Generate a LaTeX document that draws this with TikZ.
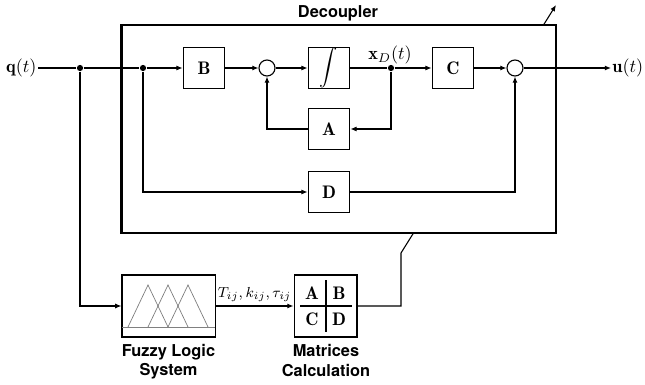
\documentclass[tikz,border=0pt]{standalone}
\usepackage{fontspec}
\setsansfont{TeX Gyre Heros}
\usetikzlibrary{arrows.meta}

\begin{document}
\begin{tikzpicture}[x=0.55pt, y=-0.55pt, line width=0.6pt,
    >={Latex[length=3.4pt,width=2.8pt]},
    block/.style={draw, minimum size=23pt, inner sep=0pt},
    sumnode/.style={draw, circle, minimum size=8.8pt, inner sep=0pt},
    junction/.style={circle, fill, minimum size=3.4pt, inner sep=0pt},
    caption/.style={font=\fontsize{9}{10.5}\selectfont\sffamily\bfseries, align=center, inner sep=0pt}]

    % Fix picture size
    \useasboundingbox (0,0) rectangle (645,385);

    % Draw the lower blocks
    \node[draw, minimum width=51.2pt, minimum height=34.1pt, inner sep=0pt] (fuzzy) at (168.5,306) {};
    \node[draw, minimum width=34.6pt, minimum height=34.1pt, inner sep=0pt] (matrices) at (325.5,306) {};

    % Membership functions inside the fuzzy block
    \draw[gray, line width=0.4pt] (122,327) -- (215,327);
    \foreach \p in {148,168,188}
        \draw[gray, line width=0.4pt] (\p-20,327) -- (\p,285) -- (\p+20,327);

    % Matrix partition
    \draw (326,280) -- (326,332);
    \draw (300,306) -- (352,306);
    \node (mA) at (312,293) {$\mathbf{A}$};
    \node (mB) at (339,293) {$\mathbf{B}$};
    \node (mC) at (312,319) {$\mathbf{C}$};
    \node (mD) at (339,319) {$\mathbf{D}$};

    % Captions
    \node[caption] (fuzzylabel) at (168.5,362) {Fuzzy Logic\\System};
    \node[caption] (matlabel) at (326,360.5) {Matrices\\Calculation};

    % Adjustment arrow through the decoupler
    \coordinate (knee) at (401,253);
    \coordinate (tip) at (556,5);
    \draw[->] (matrices.east) -| (knee) -- (tip);

    % Decoupler frame
    \node[draw, fill=white, line width=1.6pt, minimum width=239.2pt, minimum height=114.4pt, inner sep=0pt] (decoupler) at (338.5,129) {};
    \node[caption, anchor=base] (declabel) at (338,18) {Decoupler};

    % Signal path nodes
    \node[anchor=east, inner sep=0.5pt] (qin) at (38,68) {$\mathbf{q}(t)$};
    \node[junction] (dot1) at (80,68) {};
    \node[junction] (dot2) at (143,68) {};
    \node[block] (B) at (204,68) {$\mathbf{B}$};
    \node[sumnode] (sum1) at (267,68) {};
    \node[block] (int) at (329,68) {\footnotesize$\displaystyle\int$};
    \node[junction] (dotx) at (391,68) {};
    \node[anchor=south, inner sep=0.5pt] (xdlabel) at (390,66) {$\mathbf{x}_D(t)$};
    \node[block] (C) at (453,68) {$\mathbf{C}$};
    \node[sumnode] (sum2) at (515,68) {};
    \node[anchor=west, inner sep=0.5pt] (uout) at (611,68) {$\mathbf{u}(t)$};
    \node[block] (A) at (329,129) {$\mathbf{A}$};
    \node[block] (D) at (329,192) {$\mathbf{D}$};

    % Forward path
    \draw (qin.east) -- (dot1) -- (dot2);
    \draw[->] (dot2) -- (B);
    \draw[->] (B) -- (sum1);
    \draw[->] (sum1) -- (int);
    \draw (int) -- (dotx);
    \draw[->] (dotx) -- (C);
    \draw[->] (C) -- (sum2);
    \draw[->] (sum2) -- (uout);

    % Feedback and feedthrough
    \draw[->] (dotx) |- (A.east);
    \draw[->] (A.west) -| (sum1.south);
    \draw[->] (dot2) |- (D.west);
    \draw[->] (D.east) -| (sum2.south);

    % Scheduling path
    \draw[->] (dot1) |- (fuzzy.west);
    \draw[->] (fuzzy) -- node[above, inner sep=2pt, font=\footnotesize] (params) {$T_{ij}, k_{ij}, \tau_{ij}$} (matrices);

\end{tikzpicture}
\end{document}
